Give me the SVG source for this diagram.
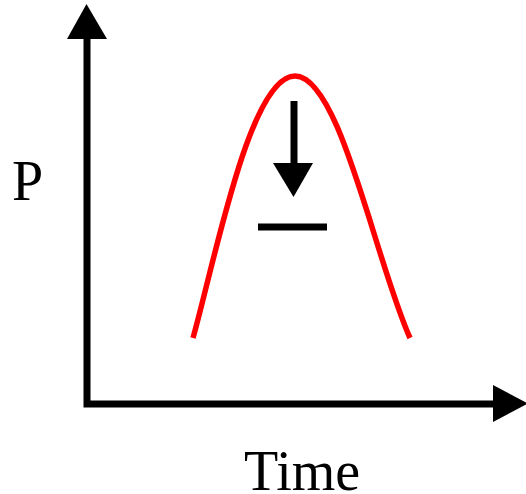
<svg xmlns="http://www.w3.org/2000/svg" width="526" height="494" viewBox="0 0 526 494">
<style>
.ax{stroke:#000;stroke-width:7;fill:none}
.head{fill:#000;stroke:none}
.curve{stroke:#ff0000;stroke-width:5.5;fill:none}
.lbl{font-family:"Liberation Serif","Times New Roman",serif;font-size:56px;fill:#000}
</style>
<rect width="526" height="494" fill="#fff"/>
<g id="connectors">
<path class="ax" d="M87,36 L87,404 L496,404"/>
<polygon class="head" points="86.5,4 67,39 107,39"/>
<polygon class="head" points="528,403.5 493,385 493,422"/>
</g>
<g id="curve">
<path class="curve" d="M193,338 C215,260 250,76 295,76 C340,76 375,260 410,338"/>
</g>
<g id="arrow-down">
<line x1="294" y1="101" x2="294" y2="165" stroke="#000" stroke-width="7"/>
<polygon class="head" points="273,163 313,163 293.5,197"/>
</g>
<g id="bar">
<line x1="258" y1="227" x2="327" y2="227" stroke="#000" stroke-width="7"/>
</g>
<g id="label-p">
<text class="lbl" x="12" y="200">P</text>
</g>
<g id="label-time">
<text class="lbl" x="244" y="490">Time</text>
</g>
</svg>
